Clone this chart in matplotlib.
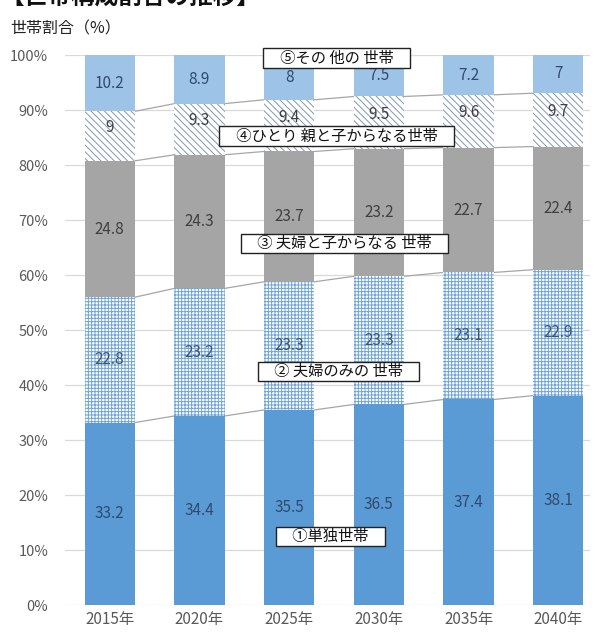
import matplotlib
matplotlib.use("Agg")
import matplotlib.pyplot as plt
import numpy as np

plt.rcParams['font.family'] = ['Noto Sans CJK JP', 'DejaVu Sans']
plt.rcParams['hatch.linewidth'] = 0.7

years = ["2015年", "2020年", "2025年", "2030年", "2035年", "2040年"]
single = [33.2, 34.4, 35.5, 36.5, 37.4, 38.1]
couple = [22.8, 23.2, 23.3, 23.3, 23.1, 22.9]
couple_kids = [24.8, 24.3, 23.7, 23.2, 22.7, 22.4]
single_parent = [9, 9.3, 9.4, 9.5, 9.6, 9.7]
other = [10.2, 8.9, 8, 7.5, 7.2, 7]

series = [single, couple, couple_kids, single_parent, other]
names = ["①単独世帯", "② 夫婦のみの 世帯", "③ 夫婦と子からなる 世帯",
         "④ひとり 親と子からなる世帯", "⑤その 他の 世帯"]
faces = ["#5B9BD5", "white", "#A5A5A5", "white", "#9DC3E6"]
hatch_cols = ["#5B9BD5", "#6FA3D6", "#A5A5A5", "#8497B0", "#9DC3E6"]
hatches = [None, "+++++", None, "\\\\\\\\\\", None]
label_cols = ["#2F4A6E", "#3B5675", "#3F3F3F", "#404040", "#2F4A6E"]
label_shift = [0, 0, 0, 1.5, 0]
name_pos = [(2.46, 12.5), (2.55, 42.5), (2.62, 65.8), (2.53, 85.3), (2.53, 99.5)]

fig = plt.figure(figsize=(5.95, 6.35), dpi=100)
ax = fig.add_axes([0.109, 0.047, 0.882, 0.866])

x = np.arange(len(years))
w = 0.56
bottom = np.zeros(len(years))
tops = []
for vals, fc, hc, h, lc, sh in zip(series, faces, hatch_cols, hatches,
                                   label_cols, label_shift):
    vals = np.array(vals)
    ax.bar(x, vals, w, bottom=bottom, color=fc, edgecolor=hc, hatch=h,
           linewidth=0, zorder=2)
    for xi, b, v in zip(x, bottom, vals):
        ax.text(xi, b + v / 2 + sh, f"{v:g}", ha="center", va="center",
                fontsize=11, color=lc, zorder=4)
    bottom = bottom + vals
    tops.append(bottom.copy())

# series lines between bars
for cum in tops[:-1]:
    for i in range(len(years) - 1):
        ax.plot([x[i] + w / 2, x[i + 1] - w / 2], [cum[i], cum[i + 1]],
                color="#A6A6A6", lw=0.9, zorder=1)

for name, (nx, ny) in zip(names, name_pos):
    ax.text(nx, ny, "\u3000" + name + "\u3000", ha="center", va="center",
            fontsize=11, color="#111111", zorder=5,
            bbox=dict(boxstyle="square,pad=0.08", fc="white", ec="#222222", lw=1))

ax.set_xlim(-0.5, 5.35)
ax.set_ylim(0, 100)
ax.set_yticks(np.arange(0, 101, 10))
ax.set_yticklabels([f"{v}%" for v in range(0, 101, 10)])
ax.set_xticks(x)
ax.set_xticklabels(years)
ax.tick_params(length=0, labelsize=10.5, colors="#595959", pad=12)
ax.tick_params(axis="x", labelsize=11, pad=4)
ax.grid(axis="y", color="#D9D9D9", lw=0.9, zorder=0)
ax.set_axisbelow(True)
for s in ax.spines.values():
    s.set_visible(False)

fig.text(0.017, 0.955, "世帯割合（%）", fontsize=11.5, color="#222222",
         ha="left", va="center")
fig.text(0.0, 1.004, "【世帯構成割合の推移】", fontsize=17, fontweight="bold",
         color="#111111", ha="left", va="center")

fig.savefig("out.png", dpi=100)
